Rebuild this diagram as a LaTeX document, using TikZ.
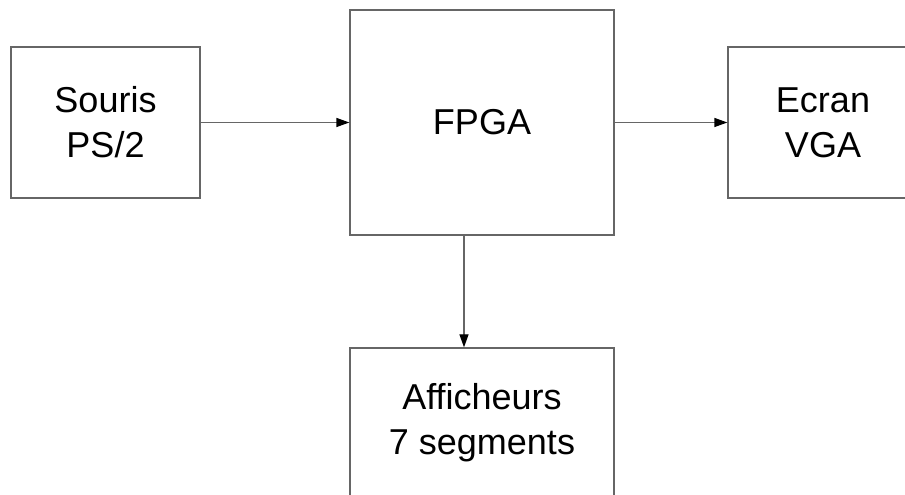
\documentclass[tikz,border=0pt]{standalone}
\usepackage{fontspec}
\setmainfont{Liberation Sans}
\usetikzlibrary{arrows.meta}

\tikzset{
  block/.style={draw=black!60, line width=1.3pt, align=center, inner sep=0pt,
    font=\fontsize{36}{45}\selectfont},
  link/.style={draw=black!60, line width=1.3pt,
    -{Triangle[length=13pt, width=9pt, color=black]}}
}

\begin{document}
\begin{tikzpicture}[x=1pt, y=1pt]
% Page size and clipping
\useasboundingbox (0,0) rectangle (905,495);
\clip (0,0) rectangle (905,495);

% Blocks
\node[block, minimum width=189pt, minimum height=151pt] (souris) at (105.5,372.5) {Souris\\PS/2};
\node[block, minimum width=264pt, minimum height=225pt] (fpga) at (482,372.5) {FPGA};
\node[block, minimum width=190pt, minimum height=151pt] (ecran) at (823,372.5) {Ecran\\VGA};
\node[block, minimum width=264pt, minimum height=149pt] (aff) at (482,72.5) {Afficheurs\\7 segments};

% Links
\draw[link] (souris.east) -- (fpga.west);
\draw[link] (fpga.east) -- (ecran.west);
\draw[link] ([xshift=-18pt]fpga.south) -- ([xshift=-18pt]aff.north);

\end{tikzpicture}
\end{document}
